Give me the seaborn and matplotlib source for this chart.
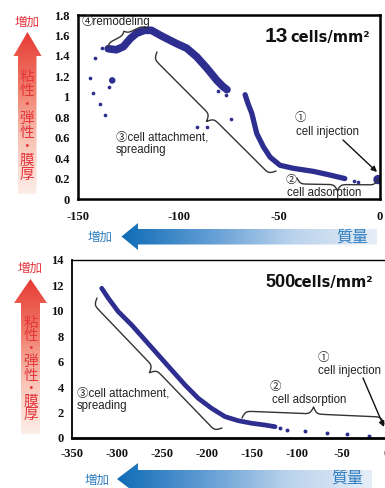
import numpy as np
import matplotlib
matplotlib.use("Agg")
import matplotlib.pyplot as plt
from matplotlib.patches import Polygon
from matplotlib.colors import LinearSegmentedColormap
import seaborn as sns

# ---------------- data ----------------
# 13 cells/mm2 : main band before the jump
top_band1_x = [-135, -131, -127.5, -124, -121, -117, -113.5, -109, -105, -101, -96, -91, -86, -81, -78, -76]
top_band1_y = [1.47, 1.46, 1.49, 1.57, 1.62, 1.65, 1.65, 1.60, 1.56, 1.52, 1.475, 1.39, 1.28, 1.16, 1.10, 1.07]
# band after the jump
top_band2_x = [-67, -65.5, -63.7, -61.2, -57.9, -54.6, -49.7, -43, -39.7, -33, -25, -17.5]
top_band2_y = [1.02, 0.93, 0.84, 0.64, 0.51, 0.41, 0.33, 0.30, 0.29, 0.27, 0.235, 0.20]
# loose points
top_dots_x = [-138.2, -141.6, -144, -142.4, -139, -136.6, -134.5, -80.3, -76.5, -74, -91, -86, -10.8, -13]
top_dots_y = [1.48, 1.38, 1.18, 1.04, 0.93, 0.82, 1.10, 1.06, 1.02, 0.78, 0.70, 0.70, 0.17, 0.18]
top_blob_x = [-133, -1]
top_blob_y = [1.16, 0.19]

# 500 cells/mm2
bot_band_x = [-317, -309.6, -298.6, -283.7, -268.9, -254.1, -239.3, -224.4, -209.7, -194.8, -180, -165.2, -150.4, -135.6, -124.4]
bot_band_y = [11.78, 10.99, 9.94, 8.89, 7.71, 6.53, 5.35, 4.17, 3.12, 2.33, 1.68, 1.36, 1.16, 1.02, 0.89]
bot_dots_x = [-118.9, -111, -91, -67, -44.8, -19.7]
bot_dots_y = [0.81, 0.65, 0.52, 0.37, 0.31, 0.18]

top_yticks = [0, 0.2, 0.4, 0.6, 0.8, 1, 1.2, 1.4, 1.6, 1.8]
top_ylabels = ["0", "0.2", "0.4", "0.6", "0.8", "1", "1.2", "1.4", "1.6", "1.8"]
top_xticks = [-150, -100, -50, 0]
bot_yticks = [0, 2, 4, 6, 8, 10, 12, 14]
bot_xticks = [-350, -300, -250, -200, -150, -100, -50, 0]

DOT = "#2d2e8f"
RED = "#e5363c"
BLUE = "#2f7dbf"

sns.set_style("white")
plt.rcParams["font.family"] = ["Liberation Sans", "Noto Sans CJK JP", "DejaVu Sans"]
TICKFONT = dict(family="Liberation Serif", weight="bold", size=9)

fig = plt.figure(figsize=(3.85, 4.88), dpi=100)
W, H = 385.0, 488.0

ax1 = fig.add_axes([78 / W, 1 - 199 / H, 302 / W, 184 / H])
ax2 = fig.add_axes([72 / W, 1 - 438 / H, 315 / W, 178 / H])

# ---------------- top panel ----------------
sns.lineplot(x=top_band1_x, y=top_band1_y, ax=ax1, color=DOT, lw=5.5, sort=False, estimator=None,
             solid_capstyle="round", solid_joinstyle="round")
sns.lineplot(x=top_band2_x, y=top_band2_y, ax=ax1, color=DOT, lw=3.8, sort=False, estimator=None,
             solid_capstyle="round", solid_joinstyle="round")
sns.scatterplot(x=top_dots_x, y=top_dots_y, ax=ax1, color=DOT, s=7, linewidth=0)
sns.scatterplot(x=top_blob_x, y=top_blob_y, ax=ax1, color=DOT, size=[22, 45],
                sizes=(22, 45), legend=False, linewidth=0)
ax1.set_xlim(-150, 0)
ax1.set_ylim(0, 1.8)
ax1.set_xticks(top_xticks)
ax1.set_yticks(top_yticks)
ax1.set_yticklabels(top_ylabels)
ax1.set_xticklabels([str(v) for v in top_xticks])

# ---------------- bottom panel ----------------
sns.lineplot(x=bot_band_x, y=bot_band_y, ax=ax2, color=DOT, lw=3.4, sort=False, estimator=None,
             solid_capstyle="round", solid_joinstyle="round")
sns.scatterplot(x=bot_dots_x, y=bot_dots_y, ax=ax2, color=DOT, s=8, linewidth=0)
ax2.set_xlim(-350, 0)
ax2.set_ylim(0, 14)
ax2.set_xticks(bot_xticks)
ax2.set_yticks(bot_yticks)
ax2.set_xticklabels([str(v) for v in bot_xticks])

for ax, xpad in ((ax1, 9), (ax2, 7)):
    ax.set_xlabel("")
    ax.set_ylabel("")
    ax.tick_params(axis="x", direction="in", length=3.5, width=1.2, color="black", pad=xpad)
    ax.tick_params(axis="y", length=0, pad=6)
    for lab in ax.get_xticklabels() + ax.get_yticklabels():
        lab.set_fontproperties(TICKFONT)
        lab.set_color("#111111")
for s in ax1.spines.values():
    s.set_linewidth(1.8)
    s.set_color("black")
for name, lw in (("left", 1.3), ("top", 1.0), ("bottom", 2.0), ("right", 1.0)):
    ax2.spines[name].set_linewidth(lw)
    ax2.spines[name].set_color("black")

# ---------------- overlay in pixel coordinates ----------------
ov = fig.add_axes([0, 0, 1, 1])
ov.patch.set_alpha(0)


def grad_arrow(ax, poly, extent, colors, horizontal):
    patch = Polygon(poly, closed=True, fc="none", ec="none", transform=ax.transData)
    ax.add_patch(patch)
    g = np.linspace(0, 1, 256)
    g = g[None, :] if horizontal else g[:, None]
    cmap = LinearSegmentedColormap.from_list("g", colors)
    im = ax.imshow(g, extent=extent, cmap=cmap, aspect="auto", origin="upper", interpolation="bicubic")
    im.set_clip_path(patch)


def brace(ax, p0, p1, w, sign=1, lw=1.0):
    p0 = np.asarray(p0, float)
    p1 = np.asarray(p1, float)
    d = p1 - p0
    L = np.hypot(*d)
    u = d / L
    n = np.array([-u[1], u[0]]) * sign
    beta = L / 1.6
    t = np.linspace(0, 0.5, 151)
    h = 1 / (1 + np.exp(-beta * (t - t[0]))) + 1 / (1 + np.exp(-beta * (t - t[-1])))
    h = np.concatenate([h, h[-2::-1]])
    h = (h - h.min()) / (h.max() - h.min()) * w
    s = np.linspace(0, 1, h.size) * L
    pts = p0 + np.outer(s, u) + np.outer(h, n)
    ax.plot(pts[:, 0], pts[:, 1], color="#333333", lw=lw, solid_capstyle="round")


red_cols = ["#e63b35", "#f07a68", "#f9c4b6", "#fdeee9"]
blue_cols = ["#0f6cb6", "#5e9bd3", "#b9d2ec", "#e6eef8"]

# vertical arrows (left)
grad_arrow(ov, [(27.5, 32), (41.5, 56), (36.5, 56), (36.5, 194), (18, 194), (18, 56), (13.5, 56)],
           (13, 42, 194, 32), red_cols, False)
grad_arrow(ov, [(30.5, 279), (47, 303), (40, 303), (40, 434), (21, 434), (21, 303), (14, 303)],
           (14, 47, 434, 279), red_cols, False)
# horizontal arrows (bottom)
grad_arrow(ov, [(121.5, 236.5), (138, 223), (138, 229), (377, 229), (377, 244.5), (138, 244.5), (138, 250)],
           (121, 377, 250, 223), blue_cols, True)
grad_arrow(ov, [(117, 479), (138, 463), (138, 470), (372, 470), (372, 490), (138, 490), (138, 495)],
           (117, 372, 495, 463), blue_cols, True)

jp = ["Noto Sans CJK JP"]
ov.text(27.5, 22, "増加", color=RED, fontsize=9, ha="center", va="center", family=jp)
ov.text(30.5, 268, "増加", color=RED, fontsize=9, ha="center", va="center", family=jp)
ov.text(100, 237, "増加", color=BLUE, fontsize=9, ha="center", va="center", family=jp)
ov.text(97, 480, "増加", color=BLUE, fontsize=9, ha="center", va="center", family=jp)
ov.text(352, 237, "質量", color=BLUE, fontsize=11.5, ha="center", va="center", family=jp)
ov.text(347, 478, "質量", color=BLUE, fontsize=11.5, ha="center", va="center", family=jp)

# vertical label, one text stacked top to bottom
vlabel = "粘\n性\n・\n弾\n性\n・\n膜\n厚"
ov.text(27, 126, vlabel, color=RED, fontsize=10.5, ha="center", va="center", family=jp,
        linespacing=1.0)
ov.text(31, 369, vlabel, color=RED, fontsize=10.5, ha="center", va="center", family=jp,
        linespacing=0.93)

# braces
brace(ov, (108, 47), (146, 28), 7, sign=-1)          # remodeling
brace(ov, (157, 52), (276, 171), 14, sign=1)         # top attachment
brace(ov, (297, 178), (378, 179), 12, sign=1)        # top adsorption
brace(ov, (97, 298), (222, 428), 14, sign=1)         # bottom attachment
brace(ov, (242, 418), (384, 424), 14, sign=-1)       # bottom adsorption

# injection arrows
arrowprops = dict(arrowstyle="-|>", color="#111111", lw=1.0, mutation_scale=8, shrinkA=0, shrinkB=0)
ov.annotate("", xy=(377, 172), xytext=(343, 140), arrowprops=arrowprops)
ov.annotate("", xy=(384, 427), xytext=(363, 378), arrowprops=arrowprops)

# annotation texts
tk = dict(fontsize=8.3, color="#222222", va="center", ha="left")
ov.text(82, 22, "④remodeling", **tk)
ov.text(116, 137, "③cell attachment,", **tk)
ov.text(116, 149.5, "spreading", **tk)
ov.text(300, 118, "①", fontsize=8.3, color="#222222", va="center", ha="center")
ov.text(296, 132, "cell injection", **tk)
ov.text(291, 180.5, "②", fontsize=8, color="#222222", va="center", ha="center")
ov.text(287, 193, "cell adsorption", **tk)

ov.text(77, 393, "③cell attachment,", **tk)
ov.text(77, 405.5, "spreading", **tk)
ov.text(323, 358, "①", fontsize=8.3, color="#222222", va="center", ha="center")
ov.text(318, 371, "cell injection", **tk)
ov.text(275, 387, "②", fontsize=8.3, color="#222222", va="center", ha="center")
ov.text(272, 400, "cell adsorption", **tk)

# density labels
ov.text(265, 42, "13", fontsize=15, weight="bold", color="#111111", ha="left", va="baseline")
ov.text(290, 42, "cells/mm²", fontsize=10.5, weight="bold", color="#111111", ha="left", va="baseline",
        family=["DejaVu Sans"])
ov.text(265, 287, "500", fontsize=13, weight="bold", color="#111111", ha="left", va="baseline")
ov.text(293, 287, "cells/mm²", fontsize=10.5, weight="bold", color="#111111", ha="left", va="baseline",
        family=["DejaVu Sans"])

ov.set_xlim(0, W)
ov.set_ylim(H, 0)
ov.axis("off")

fig.savefig("out.png", dpi=100)
